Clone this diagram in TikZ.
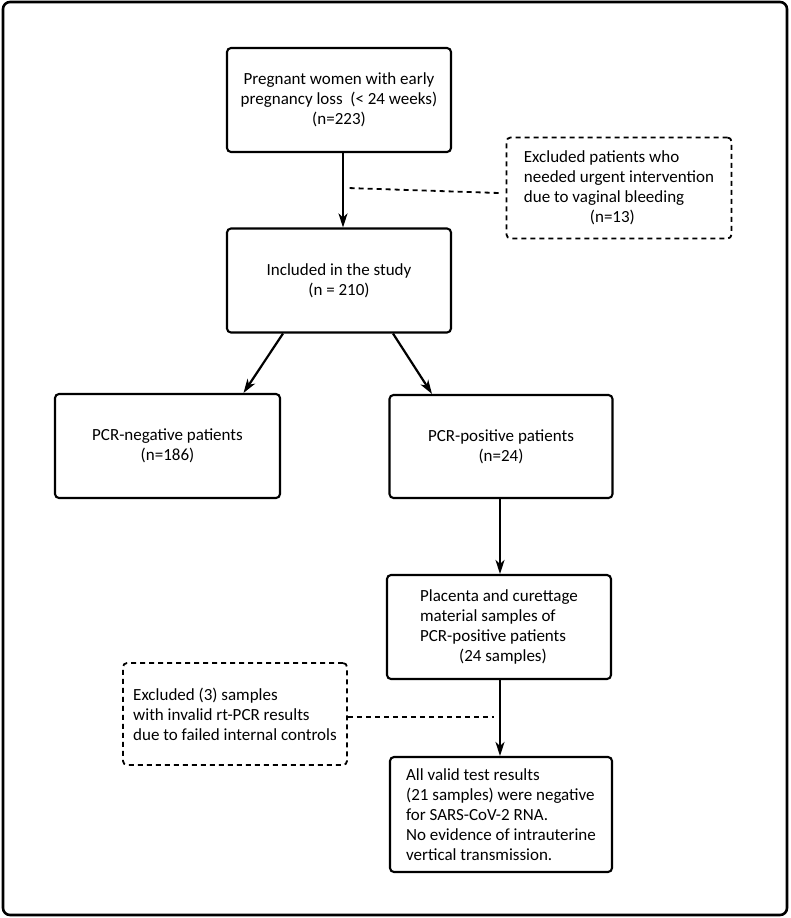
\documentclass[tikz,border=0pt]{standalone}
\usepackage{fontspec}
\setmainfont{Carlito}
\usetikzlibrary{arrows.meta}

\tikzset{
  box/.style={draw, line width=2.1pt, rounded corners=4pt, minimum width=224pt,
    minimum height=104pt, inner sep=0pt, font=\fontsize{17}{20}\selectfont},
  exbox/.style={box, line width=1.8pt, dash pattern=on 5pt off 4pt},
  flow/.style={line width=2.2pt, -{Stealth[length=14pt,width=9pt,inset=4pt]}},
  skip/.style={line width=1.8pt, dash pattern=on 5pt off 4pt}
}

\begin{document}
\begin{tikzpicture}[x=1pt,y=-1pt]
\useasboundingbox (0,0) rectangle (790,918);
\draw[line width=2.6pt, rounded corners=7pt] (3,2) rectangle (787,915);

% boxes
\node[box, align=center] (women) at (339,100) {Pregnant women with early\\pregnancy loss~~(< 24 weeks)\\(n=223)};
\node[exbox, align=left, minimum width=225pt, minimum height=101pt] (excl1) at (619,188)
  {Excluded patients who\\needed urgent intervention\\due to vaginal bleeding\\\hspace*{66pt}(n=13)};
\node[box, align=center] (incl) at (339,280.5) {Included in the study\\(n = 210)};
\node[box, align=center, minimum width=225pt] (neg) at (167.5,446) {PCR-negative patients\\(n=186)};
\node[box, align=center, minimum width=223pt, minimum height=103pt] (pos) at (501,446.5) {PCR-positive patients\\(n=24)};
\node[box, align=left] (plac) at (499,627)
  {Placenta and curettage\\material samples of\\PCR-positive patients\\\hspace*{39pt}(24 samples)};
\node[exbox, align=left, minimum height=102pt] (excl2) at (235,714)
  {Excluded (3) samples\\with invalid rt-PCR results\\due to failed internal controls};
\node[box, align=left, minimum width=222pt, minimum height=115pt] (final) at (501,814.5)
  {All valid test results\\(21 samples) were negative\\for SARS-CoV-2 RNA.\\No evidence of intrauterine\\vertical transmission.};

% connectors
\draw[flow] ([xshift=4]women.south) -- ([xshift=4]incl.north);
\draw[skip] ([xshift=-7,yshift=-5]excl1.west) -- ([xshift=9]excl1.west -| women.south);
\draw[flow] ([xshift=-56]incl.south) -- ([xshift=76]neg.north);
\draw[flow] ([xshift=54]incl.south) -- ([xshift=-69]pos.north);
\draw[flow] ([xshift=-1]pos.south) -- ([xshift=1]plac.north);
\draw[flow] ([xshift=1]plac.south) -- ([xshift=-1]final.north);
\draw[skip] ([yshift=-3]excl2.east) -- ([xshift=-5,yshift=-3]excl2.east -| plac.south);
\end{tikzpicture}
\end{document}
